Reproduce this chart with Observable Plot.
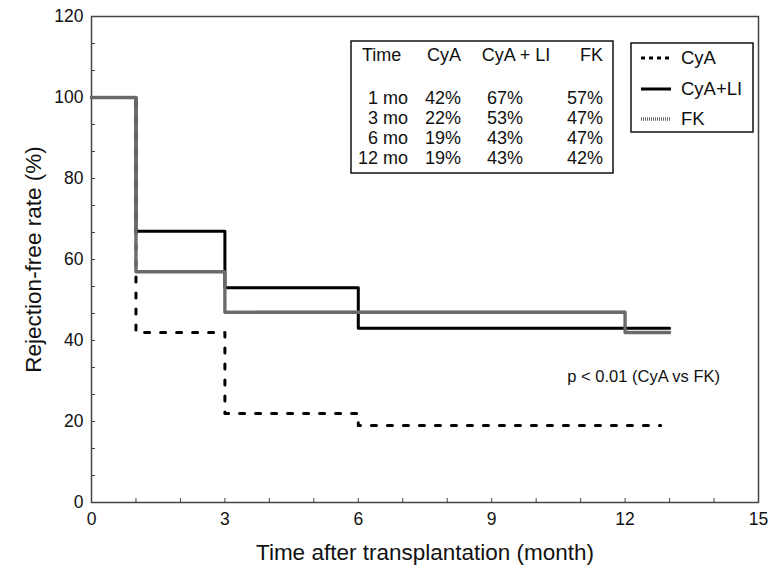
<!DOCTYPE html>
<html><head><meta charset="utf-8">
<script src="https://cdn.jsdelivr.net/npm/d3@7"></script>
<script src="https://cdn.jsdelivr.net/npm/@observablehq/plot@0.6"></script>
<style>body{margin:0;background:#fff;} #chart{width:769px;height:569px;}</style>
</head><body><div id="chart"></div>
<script>
// ---- data ----
const cyaMonths = [0, 1, 3, 6, 12.8];
const cyaRate = [100, 42, 22, 19, 19];
const cyaLiMonths = [0, 1, 3, 6, 13];
const cyaLiRate = [100, 67, 53, 43, 43];
const fkMonths = [0, 1, 3, 6, 12, 13];
const fkRate = [100, 57, 47, 47, 42, 42];
const xTicks = [0, 3, 6, 9, 12, 15];
const yTicks = [0, 20, 40, 60, 80, 100, 120];
const seriesNames = ["CyA", "CyA+LI", "FK"];
const tableHeader = ["Time", "CyA", "CyA + LI", "FK"];
const tableTime = ["1 mo", "3 mo", "6 mo", "12 mo"];
const tableCyA = ["42%", "22%", "19%", "19%"];
const tableCyALI = ["67%", "53%", "43%", "43%"];
const tableFK = ["57%", "47%", "47%", "42%"];
const pText = "p < 0.01 (CyA vs FK)";
const xTitle = "Time after transplantation (month)";
const yTitle = "Rejection-free rate (%)";

const toRows = (months, rates, g) => months.map((m, i) => ({month: m, rate: rates[i], group: g}));
const cyaRows = toRows(cyaMonths, cyaRate, seriesNames[0]);
const cyaLiRows = toRows(cyaLiMonths, cyaLiRate, seriesNames[1]);
const fkRows = toRows(fkMonths, fkRate, seriesNames[2]);

const styles = {
  "CyA": {stroke: "#000", strokeWidth: 3, strokeDasharray: "5,11"},
  "CyA+LI": {stroke: "#000", strokeWidth: 3},
  "FK": {stroke: "#6a6a6a", strokeWidth: 3.5, strokeDasharray: "1,1"}
};
const legendDash = {"CyA": "4,4", "CyA+LI": null, "FK": "1,1"};

const font = "Liberation Sans, Arial, Helvetica, sans-serif";

const svg = Plot.plot({
  width: 769, height: 569,
  marginLeft: 91, marginRight: 11, marginTop: 16, marginBottom: 67,
  style: {fontFamily: font, fontSize: "18px", color: "#111", background: "#fff"},
  x: {domain: [0, 15]},
  y: {domain: [0, 120]},
  marks: [
    Plot.axisX({ticks: d3.range(0, 16, 1), tickSize: -4, text: null, label: null, stroke: "#444"}),
    Plot.axisY({ticks: d3.range(0, 121, 20 / 3), tickSize: -4, text: null, label: null, stroke: "#444"}),
    Plot.axisX({ticks: xTicks, tickSize: 0, tickPadding: 10, label: null, fontSize: 17.5, fill: "#111"}),
    Plot.axisY({ticks: yTicks, tickSize: 0, tickPadding: 8, label: null, fontSize: 17.5, fill: "#111"}),
    Plot.frame({stroke: "#444", strokeWidth: 1.5}),
    Plot.line(cyaRows, {x: "month", y: "rate", curve: "step-after", ...styles["CyA"]}),
    Plot.line(cyaLiRows, {x: "month", y: "rate", curve: "step-after", ...styles["CyA+LI"]}),
    Plot.line(fkRows, {x: "month", y: "rate", curve: "step-after", ...styles["FK"]}),
    Plot.text([pText], {x: 10.7, y: 31, textAnchor: "start", fontSize: 16.5, fill: "#111"}),
    Plot.text([xTitle], {frameAnchor: "bottom", lineAnchor: "middle", textAnchor: "middle", dy: 50, fontSize: 22.5, fill: "#111"}),
    Plot.text([yTitle], {frameAnchor: "left", lineAnchor: "middle", textAnchor: "middle", dx: -58, rotate: -90, fontSize: 22.5, fill: "#111"})
  ]
});
document.getElementById("chart").appendChild(svg);

// ---- inset table ----
const s = d3.select(svg);
const tbl = s.append("g").attr("font-family", font).attr("font-size", 18).attr("fill", "#111");
tbl.append("rect").attr("x", 351).attr("y", 41).attr("width", 262).attr("height", 132)
  .attr("fill", "#fff").attr("stroke", "#111").attr("stroke-width", 1.5);
const cols = [
  {x: 408, anchor: "end", header: tableHeader[0], vals: tableTime, hx: 362, ha: "start"},
  {x: 461, anchor: "end", header: tableHeader[1], vals: tableCyA},
  {x: 505, anchor: "middle", header: tableHeader[2], vals: tableCyALI, hx: 516, ha: "middle"},
  {x: 603, anchor: "end", header: tableHeader[3], vals: tableFK}
];
const rowY = [98, 118, 138, 158];
cols.forEach(c => {
  tbl.append("text").attr("x", c.hx ?? c.x).attr("y", 55).attr("dy", "0.35em")
    .attr("text-anchor", c.ha ?? c.anchor).text(c.header);
  c.vals.forEach((v, i) => {
    tbl.append("text").attr("x", c.x).attr("y", rowY[i]).attr("dy", "0.35em")
      .attr("text-anchor", c.anchor).text(v);
  });
});

// ---- legend ----
const lg = s.append("g").attr("font-family", font).attr("font-size", 18.5).attr("fill", "#111");
lg.append("rect").attr("x", 631).attr("y", 43).attr("width", 122).attr("height", 89)
  .attr("fill", "#fff").attr("stroke", "#111").attr("stroke-width", 1.5);
const legY = [58, 89, 119];
seriesNames.forEach((n, i) => {
  const st = styles[n];
  lg.append("line").attr("x1", 641).attr("x2", 671).attr("y1", legY[i]).attr("y2", legY[i])
    .attr("stroke", st.stroke).attr("stroke-width", st.strokeWidth)
    .attr("stroke-dasharray", legendDash[n]);
  lg.append("text").attr("x", 681).attr("y", legY[i]).attr("dy", "0.35em")
    .attr("text-anchor", "start").text(n);
});
</script>
</body></html>
